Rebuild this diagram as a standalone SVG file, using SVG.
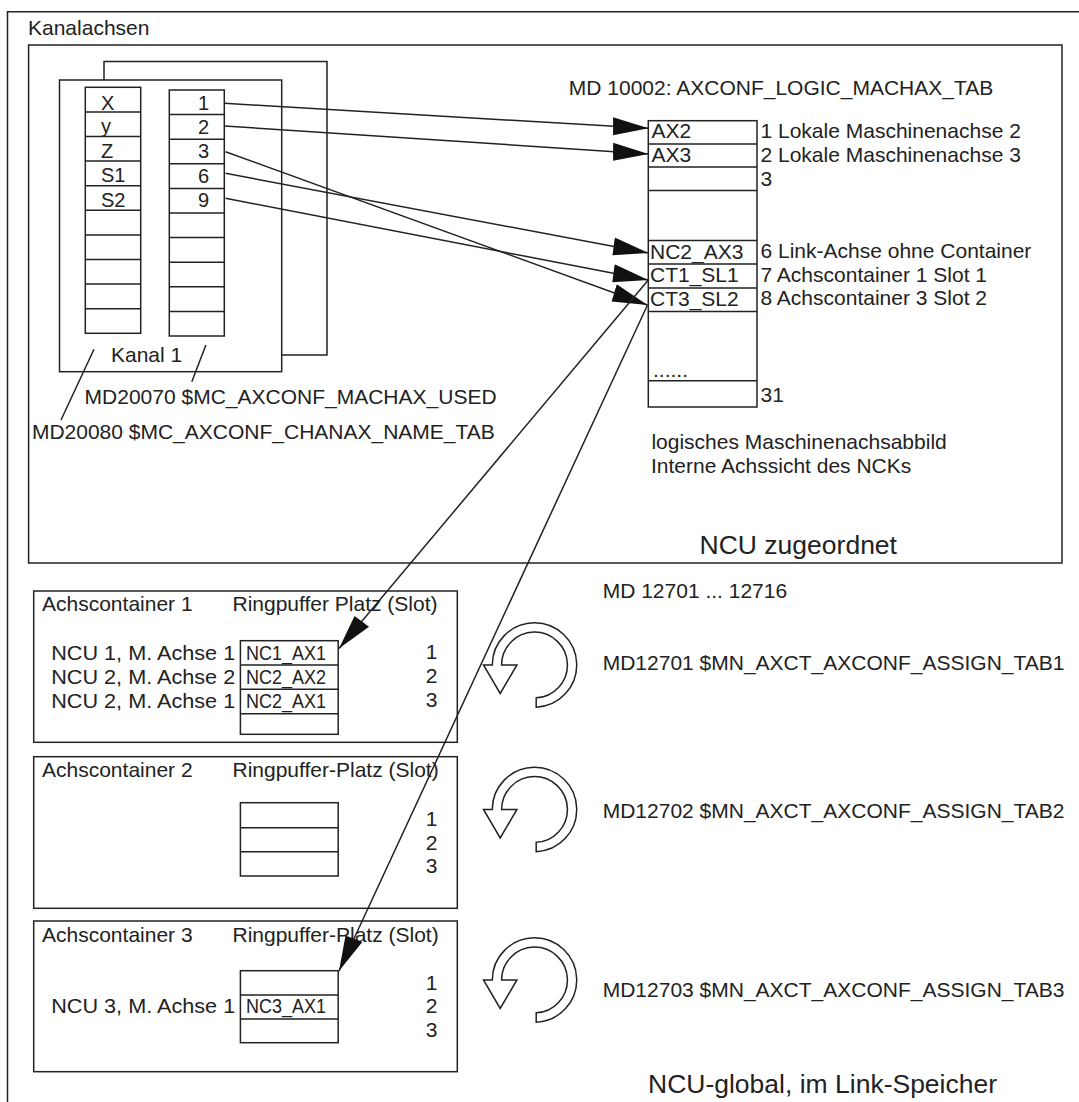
<svg xmlns="http://www.w3.org/2000/svg" width="1079" height="1102" viewBox="0 0 1079 1102">
<style>
.ln{stroke:#222;stroke-width:1.5;fill:none}
.bx{stroke:#222;stroke-width:1.5;fill:none}
.rg{stroke:#222;stroke-width:1.5;fill:#fff}
text{font-family:"Liberation Sans",Arial,sans-serif;font-size:21px;fill:#222}
.s20{font-size:20px}
.big{font-size:26.5px}
.mid{text-anchor:middle}
.end{text-anchor:end}
</style>
<defs>
<marker id="ah" markerUnits="userSpaceOnUse" markerWidth="36" markerHeight="20" viewBox="0 0 34 18" refX="34" refY="9" orient="auto">
<path d="M0,0.5 L34,9 L1,17.5 Z" fill="#111"/>
</marker>
<path id="ring" d="M1.7,42.17 A42.2,42.2 0 1 0 -42.2,0 L-51,0 L-34.3,28.5 L-17.6,0 L-32.9,0 A32.9,32.9 0 1 1 1.7,32.86 Z"/>
</defs>
<rect width="1079" height="1102" fill="#fff"/>

<g id="frame">
<path class="ln" d="M7.5,1102 V11.7 H1079"/>
<text x="28" y="35">Kanalachsen</text>
</g>

<g id="ncu-box">
<rect class="bx" x="28.6" y="45" width="1033.4" height="518"/>
<text class="big" x="699.6" y="554">NCU zugeordnet</text>
</g>

<g id="channel">
<path class="ln" d="M104,80 V61.5 H327 V355 H281.7"/>
<rect class="bx" x="59.5" y="80" width="222.2" height="291.7"/>
<rect class="bx" x="85.3" y="87.3" width="55.4" height="246"/>
<path class="ln" d="M85.3,111.9H140.7M85.3,136.5H140.7M85.3,161.1H140.7M85.3,185.7H140.7M85.3,210.3H140.7M85.3,234.9H140.7M85.3,259.5H140.7M85.3,284.1H140.7M85.3,308.7H140.7"/>
<rect class="bx" x="169.3" y="90" width="55" height="246"/>
<path class="ln" d="M169.3,114.6H224.3M169.3,139.2H224.3M169.3,163.8H224.3M169.3,188.4H224.3M169.3,213H224.3M169.3,237.6H224.3M169.3,262.2H224.3M169.3,286.8H224.3M169.3,311.4H224.3"/>
<text class="s20" x="101" y="110">X</text>
<text class="s20" x="101" y="133">y</text>
<text class="s20" x="101" y="158.3">Z</text>
<text class="s20" x="101" y="182">S1</text>
<text class="s20" x="101" y="206.7">S2</text>
<text class="s20 mid" x="203.5" y="110">1</text>
<text class="s20 mid" x="203.5" y="134">2</text>
<text class="s20 mid" x="203.5" y="158.3">3</text>
<text class="s20 mid" x="203.5" y="182.7">6</text>
<text class="s20 mid" x="203.5" y="206.7">9</text>
<text x="111" y="362.3">Kanal 1</text>
<path class="ln" d="M94,349.3 L61,420 M205.9,345 L191.8,381.7"/>
<text x="84.6" y="404">MD20070 $MC_AXCONF_MACHAX_USED</text>
<text x="31.9" y="439.3">MD20080 $MC_AXCONF_CHANAX_NAME_TAB</text>
</g>

<g id="logic-table">
<text x="568.8" y="95">MD 10002: AXCONF_LOGIC_MACHAX_TAB</text>
<rect class="bx" x="648.3" y="120.7" width="108.7" height="286.3"/>
<path class="ln" d="M648.3,144H757M648.3,167H757M648.3,190.5H757M648.3,240.5H757M648.3,264H757M648.3,288H757M648.3,311.5H757M648.3,380.7H757"/>
<text x="651.5" y="138">AX2</text>
<text x="651.5" y="161.5">AX3</text>
<text x="650" y="258.5">NC2_AX3</text>
<text x="650" y="282">CT1_SL1</text>
<text x="650" y="305.5">CT3_SL2</text>
<text x="653" y="377">......</text>
<text x="760.5" y="138.3">1 Lokale Maschinenachse 2</text>
<text x="760.5" y="161.7">2 Lokale Maschinenachse 3</text>
<text x="760.5" y="185.7">3</text>
<text x="760.5" y="258.3">6 Link-Achse ohne Container</text>
<text x="760.5" y="281.7">7 Achscontainer 1 Slot 1</text>
<text x="760.5" y="305">8 Achscontainer 3 Slot 2</text>
<text x="760.5" y="402.3">31</text>
<text x="651.4" y="449">logisches Maschinenachsabbild</text>
<text x="651" y="472.7">Interne Achssicht des NCKs</text>
</g>

<g id="container-1">
<rect class="bx" x="33.7" y="591" width="423.6" height="151.3"/>
<text x="42" y="611">Achscontainer 1</text>
<text x="232.5" y="611">Ringpuffer Platz (Slot)</text>
<rect class="bx" x="240.4" y="640.7" width="97.8" height="93.6"/>
<path class="ln" d="M240.4,665H338.2M240.4,689.3H338.2M240.4,713.7H338.2"/>
<text x="51.2" y="660" textLength="184" lengthAdjust="spacingAndGlyphs">NCU 1, M. Achse 1</text>
<text x="51.2" y="684" textLength="184" lengthAdjust="spacingAndGlyphs">NCU 2, M. Achse 2</text>
<text x="51.2" y="707.7" textLength="184" lengthAdjust="spacingAndGlyphs">NCU 2, M. Achse 1</text>
<text x="246" y="660" textLength="80" lengthAdjust="spacingAndGlyphs">NC1_AX1</text>
<text x="246" y="684" textLength="80" lengthAdjust="spacingAndGlyphs">NC2_AX2</text>
<text x="246" y="707.7" textLength="80" lengthAdjust="spacingAndGlyphs">NC2_AX1</text>
<text class="end" x="437.5" y="659.3">1</text>
<text class="end" x="437.5" y="683.3">2</text>
<text class="end" x="437.5" y="707.3">3</text>
</g>

<g id="container-2">
<rect class="bx" x="33.7" y="756.7" width="423.6" height="151.6"/>
<text x="42" y="777.3">Achscontainer 2</text>
<text x="232.5" y="777.3">Ringpuffer-Platz (Slot)</text>
<rect class="bx" x="240.4" y="802.7" width="97.8" height="73.3"/>
<path class="ln" d="M240.4,827.7H338.2M240.4,851.7H338.2"/>
<text class="end" x="437.5" y="826">1</text>
<text class="end" x="437.5" y="850">2</text>
<text class="end" x="437.5" y="873.3">3</text>
</g>

<g id="container-3">
<rect class="bx" x="33.7" y="921" width="423.6" height="150.7"/>
<text x="42" y="941.7">Achscontainer 3</text>
<text x="232.5" y="941.7">Ringpuffer-Platz (Slot)</text>
<rect class="bx" x="240.4" y="970.7" width="97.8" height="72"/>
<path class="ln" d="M240.4,995H338.2M240.4,1019H338.2"/>
<text x="51.2" y="1013.3" textLength="184" lengthAdjust="spacingAndGlyphs">NCU 3, M. Achse 1</text>
<text x="246" y="1013.3" textLength="80" lengthAdjust="spacingAndGlyphs">NC3_AX1</text>
<text class="end" x="437.5" y="990">1</text>
<text class="end" x="437.5" y="1013.3">2</text>
<text class="end" x="437.5" y="1037.3">3</text>
</g>

<g id="ring-1">
<use href="#ring" class="rg" x="534.5" y="665"/>
<text x="602.7" y="670">MD12701 $MN_AXCT_AXCONF_ASSIGN_TAB1</text>
</g>
<g id="ring-2">
<use href="#ring" class="rg" x="534.5" y="809.5"/>
<text x="602.7" y="818">MD12702 $MN_AXCT_AXCONF_ASSIGN_TAB2</text>
</g>
<g id="ring-3">
<use href="#ring" class="rg" x="534.5" y="980"/>
<text x="602.7" y="996.7">MD12703 $MN_AXCT_AXCONF_ASSIGN_TAB3</text>
</g>

<g id="global-labels">
<text x="602.7" y="597.7">MD 12701 ... 12716</text>
<text class="big" x="648" y="1092.7">NCU-global, im Link-Speicher</text>
</g>

<g id="connectors">
<path class="ln" marker-end="url(#ah)" d="M224.5,103.3 L648.5,128.3"/>
<path class="ln" marker-end="url(#ah)" d="M224.5,126 L648.5,154"/>
<path class="ln" marker-end="url(#ah)" d="M225.5,151.7 L647.5,305"/>
<path class="ln" marker-end="url(#ah)" d="M225.5,173.3 L648.5,253"/>
<path class="ln" marker-end="url(#ah)" d="M225.5,198.3 L648.3,280"/>
<path class="ln" marker-end="url(#ah)" d="M648.3,280 L339,648.5"/>
<path class="ln" marker-end="url(#ah)" d="M647.5,305 L339,971"/>
</g>
</svg>
